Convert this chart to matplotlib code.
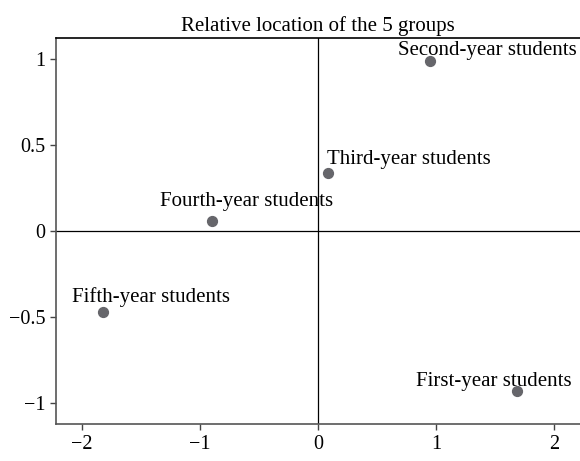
"""Relative location of the 5 student groups (correspondence map)"""

import matplotlib
import matplotlib.pyplot as plt

matplotlib.use("Agg")

plt.rcParams["font.family"] = ["Liberation Serif", "DejaVu Serif"]

# group coordinates
groups = [
    "Second-year students",
    "Third-year students",
    "Fourth-year students",
    "Fifth-year students",
    "First-year students",
]
dim1 = [0.95, 0.09, -0.90, -1.82, 1.69]
dim2 = [0.99, 0.34, 0.06, -0.47, -0.93]

# label offsets in points relative to each dot
label_dx = [-23, -1, -37, -22, -73]
label_dy = [4, 6, 11, 7, 4]

xticks = [-2, -1, 0, 1, 2]
yticks = [-1, -0.5, 0, 0.5, 1]
ytick_labels = ["\u22121", "\u22120.5", "0", "0.5", "1"]
xtick_labels = ["\u22122", "\u22121", "0", "1", "2"]


def main():
    fig = plt.figure(figsize=(5.8, 4.61), dpi=100)
    ax = fig.add_axes([0.096, 0.08, 0.904, 0.837])

    ax.axhline(0, color="black", lw=0.9, zorder=1)
    ax.axvline(0, color="black", lw=0.9, zorder=1)

    ax.scatter(dim1, dim2, s=50, color="#66666b", zorder=3)
    for name, x, y, dx, dy in zip(groups, dim1, dim2, label_dx, label_dy):
        ax.annotate(
            name,
            (x, y),
            xytext=(dx, dy),
            textcoords="offset points",
            fontsize=15,
            va="baseline",
            ha="left",
            zorder=0.5,
        )

    ax.set_xlim(-2.22, 2.22)
    ax.set_ylim(-1.12, 1.12)
    ax.set_xticks(xticks)
    ax.set_xticklabels(xtick_labels)
    ax.set_yticks(yticks)
    ax.set_yticklabels(ytick_labels)
    ax.tick_params(labelsize=14.5, color="#444444", length=4, width=1)

    ax.spines["right"].set_visible(False)
    ax.spines["top"].set_color("black")
    ax.spines["left"].set_color("#555555")
    ax.spines["bottom"].set_color("#555555")
    for sp in ax.spines.values():
        sp.set_linewidth(1.2)

    ax.set_title("Relative location of the 5 groups", fontsize=15, pad=5)

    plt.savefig("out.png", dpi=100)


if __name__ == "__main__":
    main()
